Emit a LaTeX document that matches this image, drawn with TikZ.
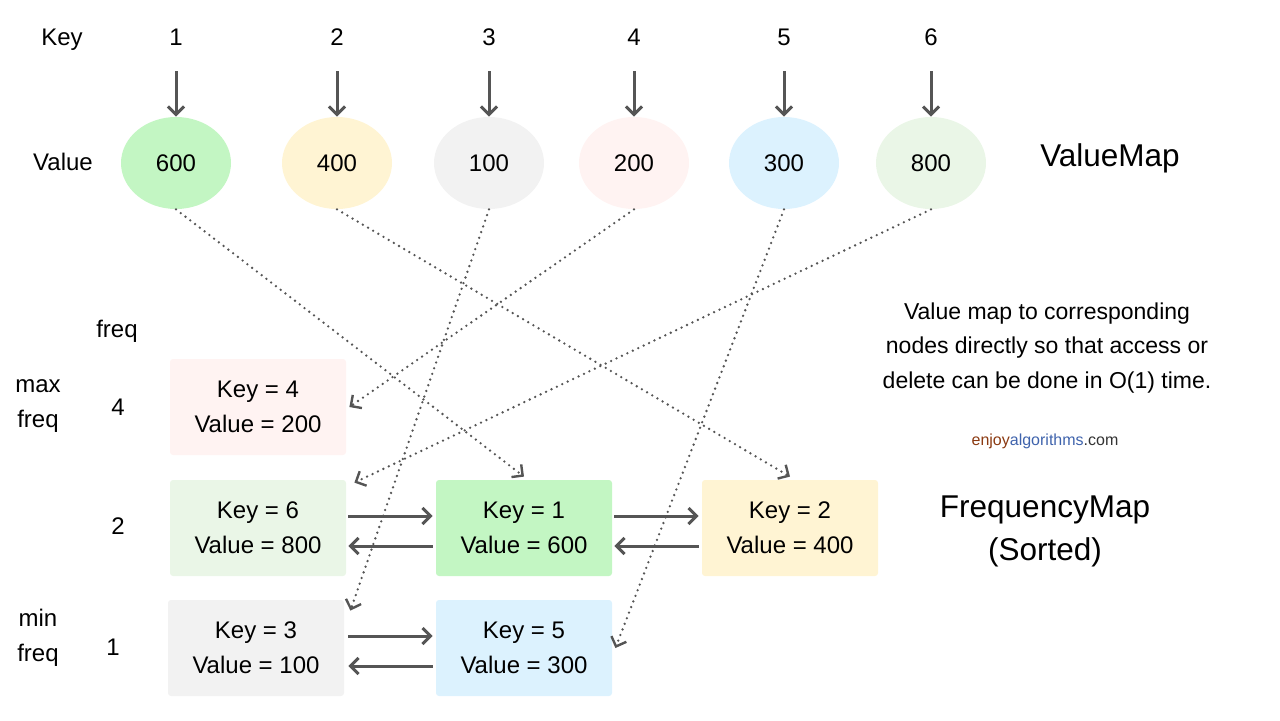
\documentclass[tikz,border=0pt]{standalone}
\usepackage{fontspec}
\setmainfont{Liberation Sans}
\usetikzlibrary{shapes.geometric,arrows.meta}
\definecolor{arrgray}{HTML}{555555}
\definecolor{cgreen}{HTML}{C3F6C3}
\definecolor{cyellow}{HTML}{FFF4D3}
\definecolor{cgray}{HTML}{F2F2F2}
\definecolor{cpink}{HTML}{FFF3F2}
\definecolor{cblue}{HTML}{DCF2FE}
\definecolor{clgreen}{HTML}{EAF6E7}
\definecolor{enjoy}{HTML}{8B3A12}
\definecolor{algo}{HTML}{3F63AC}
\definecolor{dotcom}{HTML}{333333}

\begin{document}
\begin{tikzpicture}[x=0.5pt,y=-0.5pt]
	\tikzstyle{every node}=[font=\fontsize{12}{17.5}\selectfont]
	\tikzstyle{val}=[ellipse, minimum width=55pt, minimum height=46pt, inner sep=0pt]
	\tikzstyle{entry}=[rectangle, rounded corners=1.5pt, minimum width=88pt, minimum height=48pt, align=center]
	\tikzstyle{ptr}=[arrgray, line width=1.5pt, -{Straight Barb[length=4pt,width=8pt]}]
	\tikzstyle{link}=[arrgray, line width=1.3pt, line cap=round, dash pattern=on 0pt off 3pt, -{Straight Barb[length=4pt,width=8pt,line width=1.2pt]}]
	\useasboundingbox (0,0) rectangle (1280,720);

	%Kopfzeile
	\node[anchor=base] (keylbl) at (62,45) {Key};
	\node (vallbl) at (63,162) {Value};
	\node (vmap) at (1110,158) {\fontsize{15.75}{21.5}\selectfont ValueMap};

	%Schluessel und Werte
	\foreach \k/\x/\v/\c in {1/176/600/cgreen, 2/337/400/cyellow, 3/489/100/cgray, 4/634/200/cpink, 5/784/300/cblue, 6/931/800/clgreen}{
		\node[anchor=base] (k\k) at (\x,45) {\k};
		\node[val, fill=\c] (v\k) at (\x,163) {\v};
		\draw[ptr] ([yshift=-13pt]k\k.base) -- (v\k.north);
	}

	%Frequenzliste
	\node (freqlbl) at (117,331) {freq};
	\node[align=center] (maxlbl) at (38,406) {max\\freq};
	\node[align=center] (minlbl) at (38,638) {min\\freq};
	\node (f4) at (118,407) {4};
	\node (f2) at (118,526) {2};
	\node (f1) at (113,647) {1};

	\node[entry, fill=cpink] (e4) at (258,407) {Key = 4\\Value = 200};
	\node[entry, fill=clgreen] (e6) at (258,528) {Key = 6\\Value = 800};
	\node[entry, fill=cgreen] (e1) at (524,528) {Key = 1\\Value = 600};
	\node[entry, fill=cyellow] (e2) at (790,528) {Key = 2\\Value = 400};
	\node[entry, fill=cgray] (e3) at (256,648) {Key = 3\\Value = 100};
	\node[entry, fill=cblue] (e5) at (524,648) {Key = 5\\Value = 300};

	%Verkettung
	\draw[ptr, shorten <=1pt, shorten >=1.5pt] ([yshift=6pt]e6.east) -- ([yshift=6pt]e1.west);
	\draw[ptr, shorten <=1.5pt, shorten >=1pt] ([yshift=-9pt]e1.west) -- ([yshift=-9pt]e6.east);
	\draw[ptr, shorten <=1pt, shorten >=1.5pt] ([yshift=6pt]e1.east) -- ([yshift=6pt]e2.west);
	\draw[ptr, shorten <=1.5pt, shorten >=1pt] ([yshift=-9pt]e2.west) -- ([yshift=-9pt]e1.east);
	\draw[ptr, shorten <=2pt, shorten >=1.5pt] ([yshift=6pt]e3.east) -- ([yshift=6pt]e5.west);
	\draw[ptr, shorten <=1.5pt, shorten >=2pt] ([yshift=-9pt]e5.west) -- ([yshift=-9pt]e3.east);

	%Zuordnung Wert -> Knoten
	\draw[link] (v1.south) -- ([yshift=1.5pt]e1.north);
	\draw[link] (v2.south) -- ([yshift=1.5pt]e2.north);
	\draw[link] (v3.south) -- ([shift={(6,11)}]e3.north east);
	\draw[link] (v4.south) -- ([xshift=1.5pt]e4.east);
	\draw[link] (v5.south) -- ([xshift=1.5pt]e5.east);
	\draw[link] (v6.south) -- ([shift={(8,3)}]e6.north east);

	%Erklaerung
	\node[align=center, font=\fontsize{11.5}{17.25}\selectfont] (note) at (1047,348) {Value map to corresponding\\nodes directly so that access or\\delete can be done in O(1) time.};
	\node[font=\fontsize{8}{10}\selectfont] (site) at (1045,441) {\textcolor{enjoy}{enjoy}\textcolor{algo}{algorithms}\textcolor{dotcom}{.com}};
	\node[align=center, font=\fontsize{15.75}{21.5}\selectfont] (fmap) at (1045,531) {FrequencyMap\\(Sorted)};
\end{tikzpicture}
\end{document}
